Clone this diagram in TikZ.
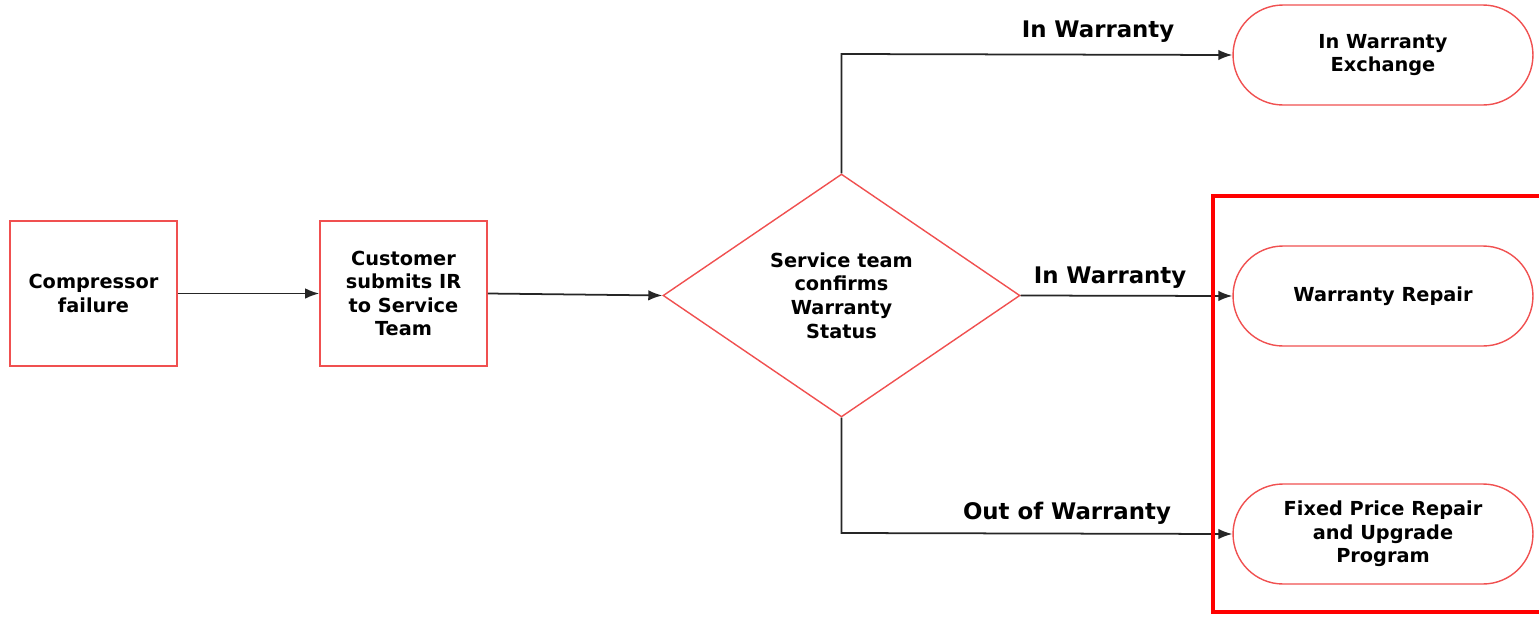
\documentclass[tikz,border=0pt]{standalone}
\usepackage{fontspec}
\setmainfont{DejaVu Sans}
\usetikzlibrary{shapes.geometric,arrows.meta}
\definecolor{boxred}{RGB}{240,80,80}
\tikzset{
  lbl/.style={font=\bfseries\fontsize{11}{13.4}\selectfont, align=center, text=black},
  procbox/.style={draw=boxred, line width=0.9pt, rectangle, minimum width=3.34cm, minimum height=2.9cm, lbl},
  decbox/.style={draw=boxred, line width=0.8pt, diamond, minimum width=7.14cm, minimum height=4.86cm, inner sep=0pt, lbl},
  termbox/.style={draw=boxred, line width=0.8pt, rectangle, rounded corners=1cm, minimum width=6cm, minimum height=2cm, lbl},
  conn/.style={draw=black!85, line width=1pt, -{Latex[length=8pt,width=6pt]}},
  clbl/.style={font=\bfseries\fontsize{13}{15}\selectfont, text=black}
}
\begin{document}
\begin{tikzpicture}[x=0.02cm,y=-0.02cm]
\useasboundingbox (0,0) rectangle (1539,616);
\node[procbox] (cf) at (93.5,293.5) {Compressor\\failure};
\node[procbox] (cs) at (403.5,293.5) {Customer\\submits IR\\to Service\\Team};
\node[decbox] (dec) at (841.5,295.5) {Service team\\confirms\\Warranty\\Status};
\node[termbox] (iwe) at (1383,55) {In Warranty\\Exchange};
\node[termbox] (wr) at (1383,296) {Warranty Repair};
\node[termbox] (fpr) at (1383,534) {Fixed Price Repair\\and Upgrade\\Program};
\coordinate (c1) at (841.5,54);
\coordinate (c2) at (841.5,533);
\draw[conn] (cf.east) -- (cs.east -| cs.west);
\draw[conn] (cs.east) -- (dec.west);
\draw[conn] (dec.north) -- (c1) -- (iwe.west);
\draw[conn] (dec.east) -- (wr.west);
\draw[conn] (dec.south) -- (c2) -- (fpr.west);
\node[clbl] (l1) at (1098,32) {In Warranty};
\node[clbl] (l2) at (1110,278) {In Warranty};
\node[clbl] (l3) at (1067,513) {Out of Warranty};
\coordinate (h1) at (1545,196);
\coordinate (h2) at (1213,196);
\coordinate (h3) at (1213,612);
\coordinate (h4) at (1545,612);
\draw[red, line width=2.4pt] (h1) -- (h2) -- (h3) -- (h4);
\end{tikzpicture}
\end{document}
